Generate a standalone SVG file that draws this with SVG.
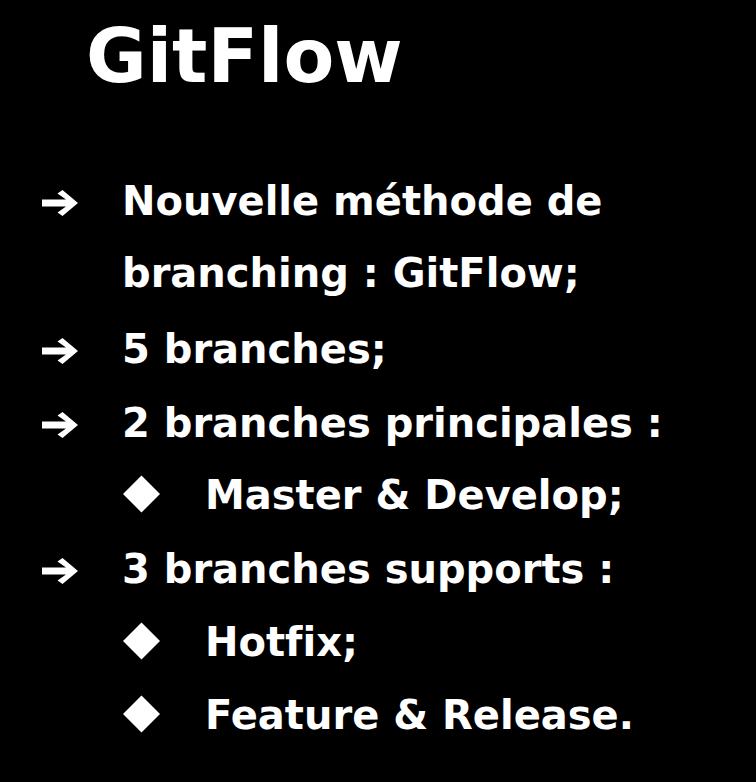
<svg xmlns="http://www.w3.org/2000/svg" width="756" height="782" viewBox="0 0 756 782">
<defs>
<style>
.t{font-family:"DejaVu Sans","Liberation Sans",sans-serif;font-weight:bold;fill:#ffffff;font-size:40px;font-variant-ligatures:none;font-feature-settings:"liga" 0}
.title{font-size:74px}
.ic{fill:#ffffff}
</style>
<path id="arr" d="M0,-3.4 L24,-3.4 L15.5,-9.5 L20.5,-13 L36,0 L20.5,13 L15.5,9.5 L24,3.4 L0,3.4 Z"/>
<path id="dia" d="M0,-18.5 L18.5,0 L0,18.5 L-18.5,0 Z"/>
</defs>
<rect x="0" y="0" width="756" height="782" fill="#000000"/>
<g id="title"><text class="t title" x="86" y="82">GitFlow</text></g>
<g id="item1">
<use href="#arr" class="ic" x="42" y="203"/>
<text class="t" x="122" y="215">Nouvelle méthode de</text>
<text class="t" x="122" y="287">branching : GitFlow;</text>
</g>
<g id="item2">
<use href="#arr" class="ic" x="42" y="351"/>
<text class="t" x="122" y="363">5 branches;</text>
</g>
<g id="item3">
<use href="#arr" class="ic" x="42" y="425"/>
<text class="t" x="122" y="437">2 branches principales :</text>
</g>
<g id="item3a">
<use href="#dia" class="ic" x="141.5" y="494"/>
<text class="t" x="205" y="509">Master &amp; Develop;</text>
</g>
<g id="item4">
<use href="#arr" class="ic" x="42" y="571"/>
<text class="t" x="122" y="583">3 branches supports :</text>
</g>
<g id="item4a">
<use href="#dia" class="ic" x="141.5" y="641"/>
<text class="t" x="205" y="656">Hotfix;</text>
</g>
<g id="item4b">
<use href="#dia" class="ic" x="141.5" y="714"/>
<text class="t" x="205" y="729">Feature &amp; Release.</text>
</g>
<g id="connectors"/>
</svg>
